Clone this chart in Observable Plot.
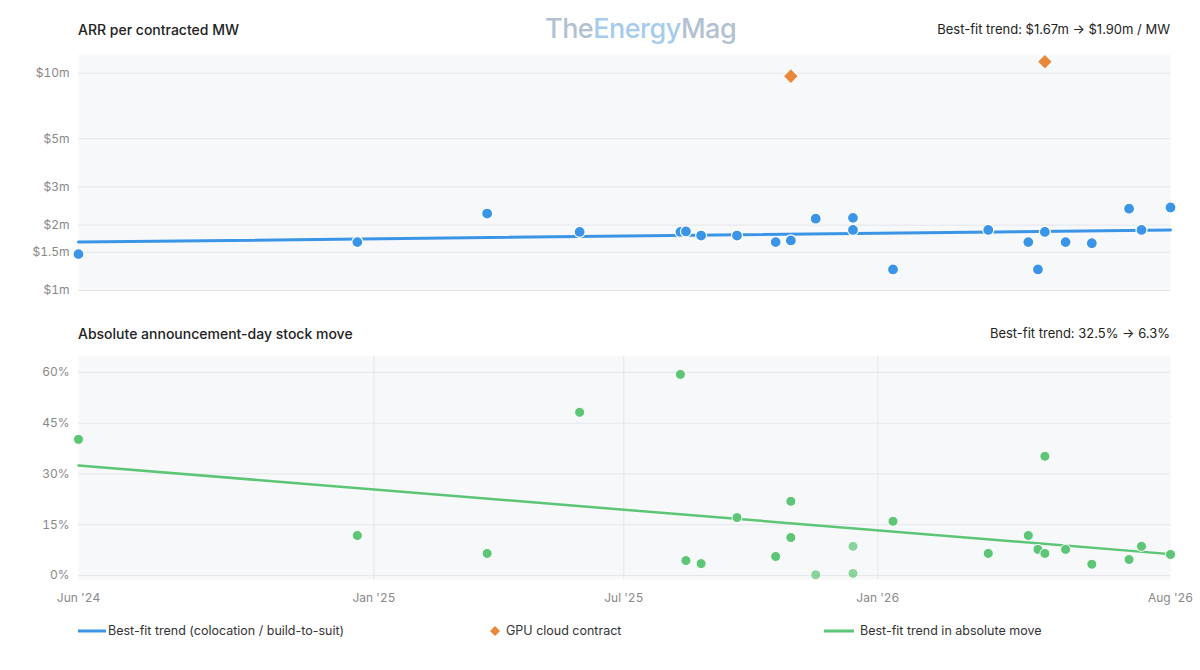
<!DOCTYPE html>
<html><head><meta charset="utf-8">
<script src="https://cdn.jsdelivr.net/npm/d3@7"></script>
<script src="https://cdn.jsdelivr.net/npm/@observablehq/plot@0.6"></script>
<style>
body{margin:0;font-family:Inter,"Noto Sans",sans-serif;background:#fff;width:1200px;position:relative}
.row{display:flex;justify-content:space-between;padding:0 30px 0 78px;font-size:13px;color:#222;height:22px;align-items:center}
.row .t{font-weight:500;font-size:14px}
.legend{display:flex;padding-left:78px;font-size:12.5px;color:#333;margin-top:14px}
.legend span{display:inline-flex;align-items:center}
.wm{position:absolute;left:545px;top:12px;font-size:27px;color:#9fb2c8;opacity:.8;font-weight:500;letter-spacing:-0.5px}
.wm b{color:#8fc0e8;font-weight:500}
</style></head><body>
<div class="wm">The<b>Energy</b>Mag</div>
<div class="row" style="margin-top:18px"><span class="t">ARR per contracted MW</span><span>Best-fit trend: $1.67m → $1.90m / MW</span></div>
<div id="c1"></div>
<div class="row" style="margin-top:22px"><span class="t">Absolute announcement-day stock move</span><span>Best-fit trend: 32.5% → 6.3%</span></div>
<div id="c2"></div>
<div class="legend">
<span style="width:410px"><svg width="30" height="10"><line x1="0" x2="28" y1="5" y2="5" stroke="#3b95e6" stroke-width="3"/></svg>Best-fit trend (colocation / build-to-suit)</span>
<span style="width:336px"><svg width="18" height="10"><path d="M7 0L12 5L7 10L2 5Z" fill="#e8883a"/></svg>GPU cloud contract</span>
<span><svg width="36" height="10"><line x1="0" x2="30" y1="5" y2="5" stroke="#5cc576" stroke-width="3"/></svg>Best-fit trend in absolute move</span>
</div>
<script>
const arrDates = ["2024-06-01","2024-12-20","2025-03-24","2025-05-30","2025-08-11","2025-08-15","2025-08-26","2025-09-21","2025-10-19","2025-10-30","2025-11-17","2025-12-14","2025-12-14","2026-01-12","2026-03-22","2026-04-20","2026-04-27","2026-05-02","2026-05-17","2026-06-05","2026-07-02","2026-07-11","2026-08-01"];
const arrValues = [1.47,1.67,2.26,1.86,1.86,1.87,1.79,1.79,1.67,1.70,2.14,2.16,1.90,1.25,1.90,1.67,1.25,1.86,1.67,1.65,2.38,1.90,2.41];
const gpuDates = ["2025-10-30","2026-05-02"];
const gpuValues = [9.7,11.3];
const moveDates = ["2024-06-01","2024-12-20","2025-03-24","2025-05-30","2025-08-11","2025-08-15","2025-08-26","2025-09-21","2025-10-19","2025-10-30","2025-10-30","2025-11-17","2025-12-14","2025-12-14","2026-01-12","2026-03-22","2026-04-20","2026-04-27","2026-05-02","2026-05-02","2026-05-17","2026-06-05","2026-07-02","2026-07-11","2026-08-01"];
const moveValues = [40.2,11.8,6.5,48.2,59.4,4.4,3.5,17.1,5.6,21.9,11.2,0.2,8.6,0.6,16,6.5,11.8,7.7,35.2,6.5,7.7,3.3,4.7,8.6,6.2];
const moveLight = [0,0,0,0,0,0,0,0,0,0,0,1,1,1,0,0,0,0,0,0,0,0,0,0,0];
const trendDates = ["2024-06-01","2026-08-01"];
const arrTrend = [1.67,1.90];
const moveTrend = [32.5,6.3];
const xTicks = ["2024-06-01","2025-01-01","2025-07-01","2026-01-01","2026-08-01"];
const xTickLabels = ["Jun '24","Jan '25","Jul '25","Jan '26","Aug '26"];
const yTicksArr = [1,1.5,2,3,5,10];
const yTicksMove = [0,15,30,45,60];

const P = d=>new Date(d+"T00:00:00");
const xDomain=[P("2024-06-01"),P("2026-08-01")];
const arr = arrDates.map((d,i)=>({date:P(d),v:arrValues[i]}));
const gpu = gpuDates.map((d,i)=>({date:P(d),v:gpuValues[i]}));
const mv = moveDates.map((d,i)=>({date:P(d),v:moveValues[i],light:moveLight[i]}));
const tA = trendDates.map((d,i)=>({date:P(d),v:arrTrend[i]}));
const tM = trendDates.map((d,i)=>({date:P(d),v:moveTrend[i]}));
const ticksX = xTicks.map(P);
const lab = new Map(ticksX.map((t,i)=>[+t,xTickLabels[i]]));
const style={fontFamily:"Inter, 'Noto Sans', sans-serif",fontSize:"12px",color:"#888",background:"transparent",overflow:"visible"};

const c1 = Plot.plot({width:1200,height:260,marginLeft:78,marginRight:30,marginTop:14,marginBottom:10,style,
 x:{domain:xDomain,axis:null},
 y:{type:"log",domain:[1,12.2],label:null},
 marks:[
  Plot.frame({fill:"#f7f8fa",stroke:null}),
  Plot.gridY(yTicksArr,{stroke:"#e4e6ea",strokeOpacity:1}),
  Plot.axisY(yTicksArr,{tickSize:0,tickFormat:d=>"$"+d+"m",fill:"#888",fontSize:12}),
  Plot.line(tA,{x:"date",y:"v",stroke:"#3b95e6",strokeWidth:3}),
  Plot.dot(arr,{x:"date",y:"v",r:5.5,fill:"#3b95e6",stroke:"#fff",strokeWidth:1.2}),
  Plot.dot(gpu,{x:"date",y:"v",r:6,symbol:"square",rotate:45,fill:"#e8883a",stroke:"#fff",strokeWidth:1})
 ]});
document.getElementById("c1").append(c1);

const c2 = Plot.plot({width:1200,height:265,marginLeft:78,marginRight:30,marginTop:12,marginBottom:30,style,
 x:{domain:xDomain,label:null},
 y:{domain:[-1.2,64.7],label:null},
 marks:[
  Plot.frame({fill:"#f7f8fa",stroke:null}),
  Plot.gridY(yTicksMove,{stroke:"#e4e6ea",strokeOpacity:1}),
  Plot.gridX(ticksX.slice(1,4),{stroke:"#e4e6ea",strokeOpacity:1}),
  Plot.axisY(yTicksMove,{tickSize:0,tickFormat:d=>d+"%",fill:"#888",fontSize:12}),
  Plot.axisX(ticksX,{tickSize:0,tickPadding:14,tickFormat:d=>lab.get(+d),fill:"#888",fontSize:12}),
  Plot.line(tM,{x:"date",y:"v",stroke:"#5cc576",strokeWidth:2.5}),
  Plot.dot(mv,{x:"date",y:"v",r:5,fill:"#5cc576",fillOpacity:d=>d.light?0.7:1,stroke:"#fff",strokeWidth:1})
 ]});
document.getElementById("c2").append(c2);
</script></body></html>
